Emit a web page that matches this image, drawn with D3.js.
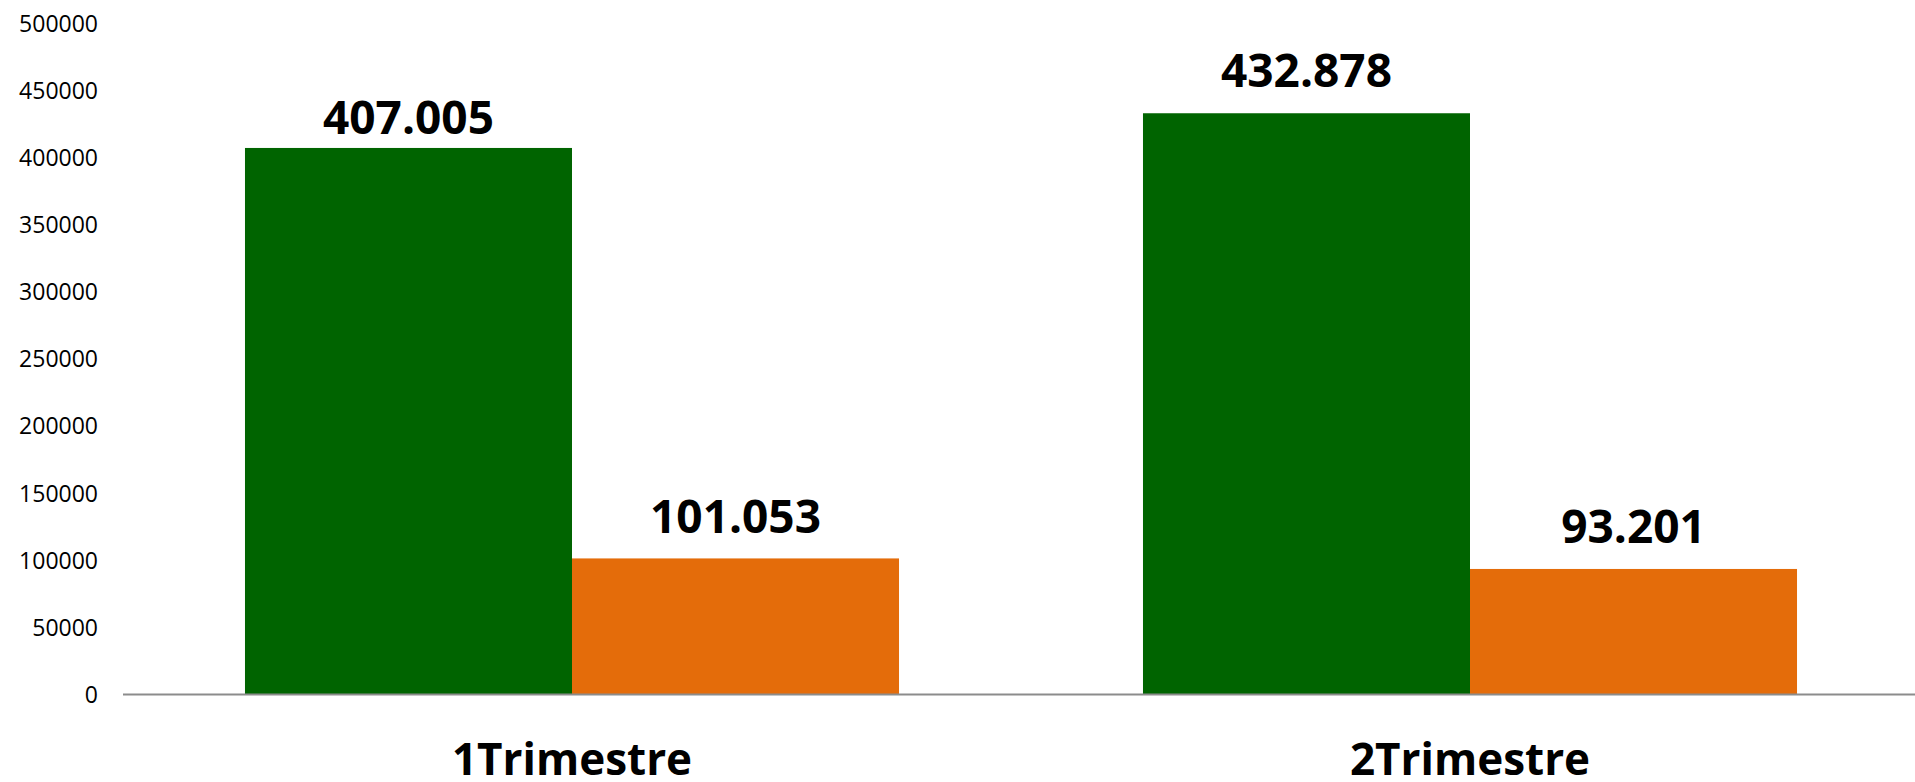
<!DOCTYPE html>
<html>
<head>
<meta charset="utf-8">
<script src="https://cdn.jsdelivr.net/npm/d3@7"></script>
<style>
  html, body { margin: 0; padding: 0; background: #ffffff; }
  svg { display: block; }
</style>
</head>
<body>
<svg id="chart" width="1915" height="782"></svg>
<script>
const categories = ["1Trimestre", "2Trimestre"];
const seriesNames = ["A", "B"];
const seriesA = [407005, 432878];
const seriesB = [101053, 93201];
const barLabelsA = ["407.005", "432.878"];
const barLabelsB = ["101.053", "93.201"];
const yTicks = [0, 50000, 100000, 150000, 200000, 250000, 300000, 350000, 400000, 450000, 500000];
const colors = ["#006400", "#E46C0A"];
// gap (px) between bar top and its value label, per series and category
const labelGapsA = [14, 26];
const labelGapsB = [25, 26];

const W = 1915, H = 782;
const svg = d3.select("#chart");
const plotLeft = 123, plotRight = 1919;
const yBottom = 694, yTop = 23.2;

const y = d3.scaleLinear().domain([0, 500000]).range([yBottom, yTop]);
const x0 = d3.scaleBand().domain(categories).range([plotLeft, plotRight]).padding(0);
const x1 = d3.scaleBand().domain(seriesNames).range([0, x0.bandwidth()]).paddingInner(0).paddingOuter(0.373);

const rows = categories.map((c, i) => ({
  cat: c,
  vals: [
    { s: "A", v: seriesA[i], label: barLabelsA[i], color: colors[0], gap: labelGapsA[i] },
    { s: "B", v: seriesB[i], label: barLabelsB[i], color: colors[1], gap: labelGapsB[i] }
  ]
}));

// Y axis labels
const yAxis = d3.axisLeft(y).tickValues(yTicks).tickSize(0).tickPadding(0).tickFormat(d3.format("d"));
const yg = svg.append("g").attr("transform", "translate(98,0)").call(yAxis);
yg.select(".domain").remove();
yg.selectAll("text")
  .attr("font-family", "'Open Sans', sans-serif")
  .attr("font-size", 23)
  .attr("fill", "#000")
  .attr("dy", "0.36em");

// Bars
const groups = svg.append("g").selectAll("g").data(rows).join("g")
  .attr("transform", d => `translate(${x0(d.cat)},0)`);

groups.selectAll("rect").data(d => d.vals).join("rect")
  .attr("x", d => x1(d.s))
  .attr("width", x1.bandwidth())
  .attr("y", d => y(d.v))
  .attr("height", d => yBottom - y(d.v))
  .attr("fill", d => d.color);

groups.selectAll("text.val").data(d => d.vals).join("text")
  .attr("class", "val")
  .attr("x", d => x1(d.s) + x1.bandwidth() / 2)
  .attr("y", d => y(d.v) - d.gap)
  .attr("text-anchor", "middle")
  .attr("font-family", "'Open Sans', sans-serif")
  .attr("font-weight", "bold")
  .attr("font-size", 46)
  .attr("fill", "#000")
  .text(d => d.label);

// Baseline
svg.append("line")
  .attr("x1", plotLeft).attr("x2", W)
  .attr("y1", yBottom + 0.5).attr("y2", yBottom + 0.5)
  .attr("stroke", "#8c8c8c").attr("stroke-width", 2);

// Category labels
const xAxis = d3.axisBottom(x0).tickSize(0).tickPadding(0);
const xg = svg.append("g").attr("transform", `translate(0,${yBottom})`).call(xAxis);
xg.select(".domain").remove();
xg.selectAll("text")
  .attr("y", 81)
  .attr("dy", 0)
  .attr("font-family", "'Open Sans', sans-serif")
  .attr("font-weight", "bold")
  .attr("font-size", 44)
  .attr("fill", "#000");
</script>
</body>
</html>
